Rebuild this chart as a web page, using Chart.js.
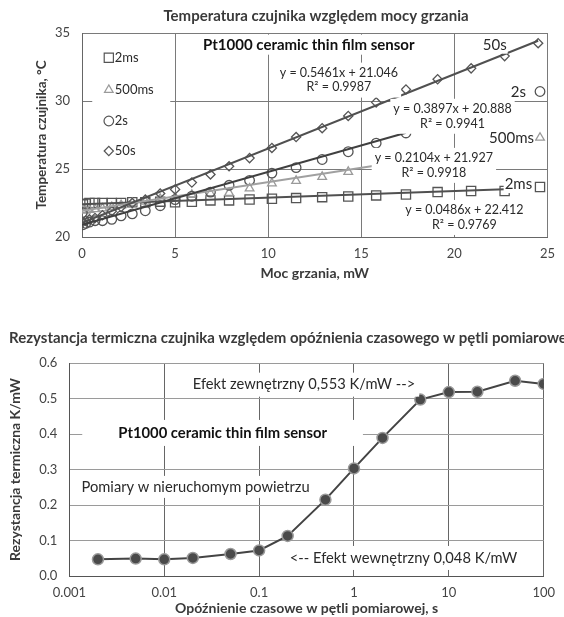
<!DOCTYPE html>
<html>
<head>
<meta charset="utf-8">
<script src="https://cdn.jsdelivr.net/npm/chart.js@4.4.0/dist/chart.umd.min.js"></script>
<style>
  html, body { margin: 0; padding: 0; background: #fff; }
  #top { position: absolute; left: 0; top: 0; width: 564px; height: 290px; }
  #bottom { position: absolute; left: 0; top: 290px; width: 564px; height: 327px; }
</style>
</head>
<body>
<div id="top"><canvas id="tempChart"></canvas></div>
<div id="bottom"><canvas id="resChart"></canvas></div>
<script>
// --- top chart data: sensor temperature vs heating power ---
var power2ms   = [0.05, 0.2, 0.4, 0.7, 1.1, 1.6, 2.1, 2.7, 3.4, 4.2, 5.0, 5.9, 6.9, 7.9, 9.0, 10.2, 11.5, 12.9, 14.3, 15.8, 17.4, 19.1, 20.9, 22.7, 24.6];
var temp2ms    = [22.4, 22.45, 22.5, 22.5, 22.5, 22.5, 22.5, 22.55, 22.55, 22.6, 22.56, 22.59, 22.69, 22.69, 22.76, 22.81, 22.86, 22.93, 22.98, 23.06, 23.13, 23.3, 23.38, 23.38, 23.68];
var power500ms = [0.05, 0.2, 0.4, 0.7, 1.1, 1.6, 2.1, 2.7, 3.4, 4.2, 5.0, 5.9, 6.9, 7.9, 9.0, 10.2, 11.5, 12.9, 14.3, 24.6];
var temp500ms  = [22.0, 21.95, 22.0, 22.05, 22.1, 22.2, 22.35, 22.5, 22.6, 22.8, 22.9, 23.1, 23.2, 23.25, 23.57, 23.94, 24.13, 24.42, 24.79, 27.3];
var power2s    = [0.02, 0.05, 0.2, 0.4, 0.7, 1.1, 1.6, 2.1, 2.7, 3.4, 4.2, 5.0, 5.9, 6.9, 7.9, 9.0, 10.2, 11.5, 12.9, 14.3, 15.8, 17.4, 24.6];
var temp2s     = [21.8, 20.9, 21.0, 21.1, 21.2, 21.2, 21.3, 21.55, 21.7, 21.93, 22.3, 22.75, 23.0, 23.3, 23.8, 24.16, 24.7, 25.1, 25.7, 26.27, 26.9, 27.65, 30.7];
var power50s   = [0.05, 0.2, 0.4, 0.7, 1.1, 1.6, 2.1, 2.7, 3.4, 4.2, 5.0, 5.9, 6.9, 7.9, 9.0, 10.2, 11.5, 12.9, 14.3, 15.8, 17.4, 19.1, 20.9, 22.7, 24.5];
var temp50s    = [21.1, 21.2, 21.3, 21.4, 21.6, 21.9, 22.2, 22.5, 22.75, 23.2, 23.5, 24.0, 24.6, 25.2, 25.8, 26.55, 27.35, 28.0, 28.9, 29.9, 30.85, 31.6, 32.4, 33.3, 34.25];

// trendline end points (x0,y0,x1,y1)
var trend2ms   = [0, 22.41, 22.7, 23.51];
var trend500ms = [0, 21.93, 15.8, 25.25];
var trend2s    = [0, 20.89, 17.4, 27.67];
var trend50s   = [0, 21.05, 24.5, 34.43];

var seriesNames = ['2ms', '500ms', '2s', '50s'];
var topXTicks = [0, 5, 10, 15, 20, 25];
var topYTicks = [20, 25, 30, 35];

// --- bottom chart data: thermal resistance vs loop delay ---
var delaySec   = [0.002, 0.005, 0.01, 0.02, 0.05, 0.1, 0.2, 0.5, 1, 2, 5, 10, 20, 50, 100];
var resistance = [0.047, 0.049, 0.047, 0.051, 0.062, 0.072, 0.113, 0.215, 0.303, 0.389, 0.497, 0.518, 0.519, 0.550, 0.541];
var bottomXTicks = [0.001, 0.01, 0.1, 1, 10, 100];
var bottomXLabels = ['0.001', '0.01', '0.1', '1', '10', '100'];

const FONT = 'Lato';
const TEXT = '#2a2a2a';

function pts(xs, ys) {
    return xs.map((x, i) => ({ x: x, y: ys[i] }));
}
function trend(t) {
    return [{ x: t[0], y: t[1] }, { x: t[2], y: t[3] }];
}

// white box with centered text lines, anchored in data coordinates
function boxText(chart, lines, xv, yv, font, color, gap, pad, padX) {
    const ctx = chart.ctx;
    const cx = chart.scales.x.getPixelForValue(xv);
    const cy = chart.scales.y.getPixelForValue(yv);
    if (padX === undefined) padX = pad;
    ctx.save();
    ctx.font = font;
    let w = Math.max(...lines.map(t => ctx.measureText(t).width));
    ctx.fillStyle = '#fff';
    ctx.fillRect(cx - w / 2 - padX, cy - gap / 2 - pad, w + 2 * padX, gap * lines.length + 2 * pad);
    ctx.fillStyle = color;
    ctx.textAlign = 'center';
    ctx.textBaseline = 'middle';
    lines.forEach((t, i) => ctx.fillText(t, cx, cy + i * gap));
    ctx.restore();
}

function plainTitle(text, x, y) {
    return {
        id: 'plainTitle',
        afterDraw(chart) {
            const ctx = chart.ctx;
            ctx.save();
            ctx.font = 'bold 15px ' + FONT;
            ctx.fillStyle = '#3a3a3a';
            ctx.textBaseline = 'middle';
            ctx.textAlign = x === null ? 'center' : 'left';
            ctx.fillText(text, x === null ? 316 : x, y);
            ctx.restore();
        }
    };
}

const markerStyles = [
    { style: 'rect', r: 6.5, color: '#555' },
    { style: 'triangle', r: 5, color: '#9a9a9a' },
    { style: 'circle', r: 4.8, color: '#555' },
    { style: 'rectRot', r: 4.6, color: '#555' }
];

const topAnnotations = {
    id: 'topAnnotations',
    afterDatasetsDraw(chart) {
        const ctx = chart.ctx;
        const sx = chart.scales.x, sy = chart.scales.y;
        // legend inside the plot
        ctx.save();
        ctx.fillStyle = '#fff';
        ctx.fillRect(sx.getPixelForValue(0.55), sy.getPixelForValue(34.3), 78, 124);
        const legendY = [33.18, 30.82, 28.53, 26.32];
        seriesNames.forEach((name, i) => {
            const m = markerStyles[i];
            const px = sx.getPixelForValue(1.44), py = sy.getPixelForValue(legendY[i]);
            ctx.strokeStyle = m.color;
            ctx.fillStyle = 'rgba(0,0,0,0)';
            ctx.lineWidth = 1.2;
            Chart.helpers.drawPoint(ctx, { pointStyle: m.style, radius: m.r, borderWidth: 1.2 }, px, py);
            ctx.font = '13px ' + FONT;
            ctx.fillStyle = TEXT;
            ctx.textAlign = 'left';
            ctx.textBaseline = 'middle';
            ctx.fillText(name, px + 6, py);
        });
        ctx.restore();

        boxText(chart, ['Pt1000 ceramic thin film sensor'], 12.18, 34.14, 'bold 15px ' + FONT, '#111', 16, 2);
        boxText(chart, ['y = 0.5461x + 21.046', 'R\u00b2 = 0.9987'], 13.8, 32.07, '12.5px ' + FONT, TEXT, 14.5, 3);
        boxText(chart, ['y = 0.3897x + 20.888', 'R\u00b2 = 0.9941'], 19.9, 29.41, '12.5px ' + FONT, TEXT, 14.5, 3);
        boxText(chart, ['y = 0.2104x + 21.927', 'R\u00b2 = 0.9918'], 18.9, 25.8, '12.5px ' + FONT, TEXT, 14.5, 3);
        boxText(chart, ['y = 0.0486x + 22.412', 'R\u00b2 = 0.9769'], 20.54, 21.97, '12.5px ' + FONT, TEXT, 14.5, 3);
        boxText(chart, ['50s'], 22.17, 34.14, '15px ' + FONT, TEXT, 16, 1);
        boxText(chart, ['2s'], 23.44, 30.67, '15px ' + FONT, TEXT, 16, 1);
        boxText(chart, ['500ms'], 23.07, 27.27, '15px ' + FONT, TEXT, 16, 1);
        boxText(chart, ['2ms'], 23.44, 23.89, '15px ' + FONT, TEXT, 16, 1);
    }
};

function scatterSet(name, xs, ys, m) {
    return {
        label: name,
        data: pts(xs, ys),
        showLine: false,
        pointStyle: m.style,
        pointRadius: m.r,
        pointBorderColor: m.color,
        pointBackgroundColor: 'rgba(0,0,0,0)',
        pointBorderWidth: 1.3
    };
}
function trendSet(t, color) {
    return {
        label: 'trend',
        data: trend(t),
        showLine: true,
        borderColor: color,
        borderWidth: 2,
        pointRadius: 0
    };
}

const tempChart = new Chart(document.getElementById('tempChart'), {
    type: 'scatter',
    data: {
        datasets: [
            trendSet(trend50s, '#505050'),
            trendSet(trend2s, '#404040'),
            trendSet(trend500ms, '#a0a0a0'),
            trendSet(trend2ms, '#505050'),
            scatterSet('50s', power50s, temp50s, markerStyles[3]),
            scatterSet('2s', power2s, temp2s, markerStyles[2]),
            scatterSet('500ms', power500ms, temp500ms, markerStyles[1]),
            scatterSet('2ms', power2ms, temp2ms, markerStyles[0])
        ]
    },
    options: {
        responsive: true,
        maintainAspectRatio: false,
        animation: false,
        layout: { padding: { top: 33, right: 7, left: 0, bottom: 0 } },
        plugins: { legend: { display: false }, tooltip: { enabled: false } },
        scales: {
            x: {
                type: 'linear',
                min: 0, max: 25,
                afterBuildTicks: (s) => { s.ticks = topXTicks.map(v => ({ value: v })); },
                afterFit: (s) => { s.height = 53; },
                grid: { color: '#7a7a7a', drawTicks: false },
                border: { color: '#666' },
                ticks: { padding: 9, color: '#444', font: { family: FONT, size: 13 } },
                title: { display: true, text: 'Moc grzania, mW', color: '#3a3a3a',
                         font: { family: FONT, size: 14, weight: 'bold' }, padding: { top: 0, bottom: 8.6 } }
            },
            y: {
                min: 20, max: 35,
                afterBuildTicks: (s) => { s.ticks = topYTicks.map(v => ({ value: v })); },
                afterFit: (s) => { s.width = 82; },
                grid: { color: '#7a7a7a', drawTicks: false },
                border: { color: '#666' },
                ticks: { padding: 12, color: '#444', font: { family: FONT, size: 13 } },
                title: { display: true, text: 'Temperatura czujnika, \u00b0C', color: '#3a3a3a',
                         font: { family: FONT, size: 13.5, weight: 'bold' }, padding: { top: 34, bottom: 0 } }
            }
        }
    },
    plugins: [topAnnotations, plainTitle('Temperatura czujnika względem mocy grzania', null, 16)]
});

const bottomAnnotations = {
    id: 'bottomAnnotations',
    afterDatasetsDraw(chart) {
        boxText(chart, ['Efekt zewnętrzny 0,553 K/mW -->'], 0.297, 0.539, '14.7px ' + FONT, TEXT, 16, 4);
        boxText(chart, ['Pt1000 ceramic thin film sensor'], 0.0412, 0.403, 'bold 14.8px ' + FONT, '#111', 16, 5, 36);
        boxText(chart, ['Pomiary w nieruchomym powietrzu'], 0.0214, 0.251, '14.7px ' + FONT, TEXT, 16, 3);
        boxText(chart, ['<-- Efekt wewnętrzny 0,048 K/mW'], 3.33, 0.0508, '14.7px ' + FONT, TEXT, 16, 4);
    }
};

const resChart = new Chart(document.getElementById('resChart'), {
    type: 'line',
    data: {
        datasets: [{
            label: 'Rezystancja termiczna',
            data: pts(delaySec, resistance),
            borderColor: '#444',
            borderWidth: 2,
            tension: 0,
            pointRadius: 5.5,
            pointBackgroundColor: '#4a4a4a',
            pointBorderColor: '#9a9a9a',
            pointBorderWidth: 1.5
        }]
    },
    options: {
        responsive: true,
        maintainAspectRatio: false,
        animation: false,
        layout: { padding: { top: 73, right: 18, left: 0, bottom: 0 } },
        plugins: { legend: { display: false }, tooltip: { enabled: false } },
        scales: {
            x: {
                type: 'logarithmic',
                min: 0.001, max: 100,
                afterBuildTicks: (s) => { s.ticks = bottomXTicks.map(v => ({ value: v })); },
                afterFit: (s) => { s.height = 41; },
                grid: { color: '#666', drawTicks: false },
                border: { color: '#555' },
                ticks: { padding: 9, color: '#444', font: { family: FONT, size: 13 },
                         callback: (v, i) => bottomXLabels[i] },
                title: { display: true, text: 'Opóźnienie czasowe w pętli pomiarowej, s', color: '#3a3a3a',
                         font: { family: FONT, size: 14, weight: 'bold' }, padding: { top: 0, bottom: 0.6 } }
            },
            y: {
                min: 0, max: 0.6,
                afterFit: (s) => { s.width = 69.4; },
                grid: { color: '#9a9a9a', drawTicks: false },
                border: { color: '#555' },
                ticks: { stepSize: 0.1, padding: 12, color: '#444', font: { family: FONT, size: 13 },
                         callback: (v) => v.toFixed(1) },
                title: { display: true, text: 'Rezystancja termiczna K/mW', color: '#3a3a3a',
                         font: { family: FONT, size: 14, weight: 'bold' }, padding: { top: 7, bottom: 0 } }
            }
        }
    },
    plugins: [bottomAnnotations, plainTitle('Rezystancja termiczna czujnika względem opóźnienia czasowego w pętli pomiarowej', 9, 48)]
});
</script>
</body>
</html>
